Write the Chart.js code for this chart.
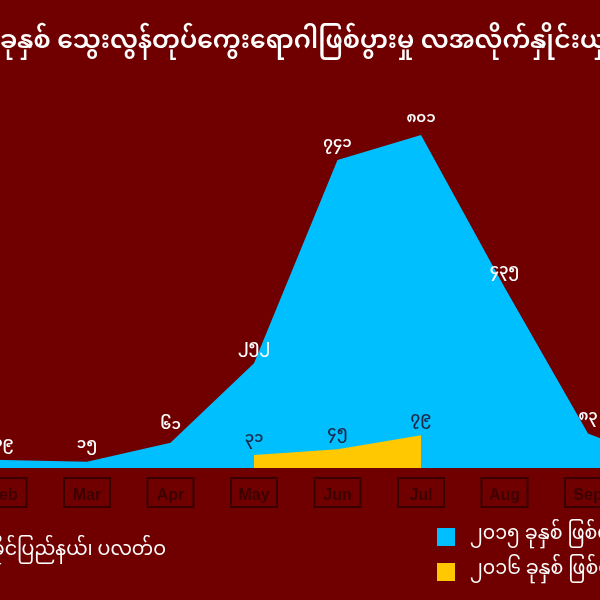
<!DOCTYPE html>
<html>
<head>
<meta charset="utf-8">
<script src="https://cdn.jsdelivr.net/npm/chart.js@4/dist/chart.umd.min.js"></script>
<style>
html,body{margin:0;padding:0;background:#700000;overflow:hidden;}
#wrap{position:relative;width:600px;height:600px;overflow:hidden;background:#700000;}
#c{position:absolute;left:-300px;top:0;}
</style>
</head>
<body>
<div id="wrap"><canvas id="c" width="1200" height="600"></canvas></div>
<script>
const months = ['Jan','Feb','Mar','Apr','May','Jun','Jul','Aug','Sep','Oct'];
const cases2015 = [24, 19, 15, 61, 252, 741, 801, 435, 83, 5];
const cases2016 = [null, null, null, null, 31, 45, 79, null, null, null];
const seriesNames = ['၂၀၁၅ ခုနှစ် ဖြစ်ပွားမှု', '၂၀၁၆ ခုနှစ် ဖြစ်ပွားမှု'];
const titlePrefix = '၂၀၁၅ နှင့် ၂၀၁၆ ';
const titleMain = 'ခုနှစ် သွေးလွန်တုပ်ကွေးရောဂါဖြစ်ပွားမှု လအလိုက်နှိုင်းယှဉ်ချက်';
const sourceText = 'ရခိုင်ပြည်နယ်၊ ပလတ်ဝ';

const OFF = 300; // canvas x = page x + OFF
const MY_FONT = '"Noto Sans Myanmar","Myanmar Text","Padauk","Noto Sans",sans-serif';
const myDigits = n => String(n).replace(/[0-9]/g, d => '၀၁၂၃၄၅၆၇၈၉'[+d]);

const deco = {
  id: 'deco',
  afterDatasetsDraw(chart) {
    const ctx = chart.ctx;
    ctx.save();
    ctx.textAlign = 'center';
    ctx.textBaseline = 'middle';
    ctx.font = '600 15px ' + MY_FONT;
    chart.data.datasets.forEach((ds, di) => {
      const meta = chart.getDatasetMeta(di);
      ds.data.forEach((v, i) => {
        if (v === null) return;
        const p = meta.data[i];
        ctx.fillStyle = di === 0 ? '#ffffff' : '#1b2a4a';
        ctx.fillText(myDigits(v), p.x, p.y - 15);
      });
    });
    ctx.restore();
  },
  afterDraw(chart) {
    const ctx = chart.ctx;
    const xs = chart.scales.x;
    ctx.save();
    // tick boxes
    ctx.strokeStyle = '#3a0000';
    ctx.lineWidth = 2;
    months.forEach((m, i) => {
      const x = xs.getPixelForTick(i);
      ctx.strokeRect(x - 23, 478, 46, 29);
    });
    // title
    ctx.fillStyle = '#ffffff';
    ctx.font = '600 25px ' + MY_FONT;
    ctx.textBaseline = 'middle';
    ctx.textAlign = 'left';
    const pw = ctx.measureText(titlePrefix).width;
    ctx.fillText(titlePrefix + titleMain, OFF + 0 - pw, 45);
    // source
    ctx.font = '19px ' + MY_FONT;
    ctx.textAlign = 'right';
    ctx.fillText(sourceText, OFF + 166, 553);
    // legend
    ctx.textAlign = 'left';
    const cols = chart.data.datasets.map(d => d.backgroundColor);
    [537, 572].forEach((y, i) => {
      ctx.fillStyle = cols[i];
      ctx.fillRect(OFF + 437, y - 9, 18, 18);
      ctx.fillStyle = '#ffffff';
      ctx.fillText(seriesNames[i], OFF + 470, y);
    });
    ctx.restore();
  }
};

new Chart(document.getElementById('c'), {
  type: 'line',
  data: {
    labels: months,
    datasets: [
      { label: seriesNames[0], data: cases2015, backgroundColor: '#00bfff', borderWidth: 0, pointRadius: 0, fill: 'origin', tension: 0, order: 1 },
      { label: seriesNames[1], data: cases2016, backgroundColor: '#ffc800', borderWidth: 0, pointRadius: 0, fill: 'origin', tension: 0, order: 0 }
    ]
  },
  options: {
    responsive: false,
    animation: false,
    devicePixelRatio: 1,
    layout: { padding: { left: 220, right: 228.5, top: 93.9, bottom: 0 } },
    plugins: { legend: { display: false }, title: { display: false }, tooltip: { enabled: false } },
    scales: {
      y: { display: false, min: 0, max: 900 },
      x: {
        offset: false,
        grid: { display: false },
        border: { display: false },
        ticks: { color: '#3c0000', font: { family: 'Liberation Sans, Arial, sans-serif', size: 16, weight: 'bold' }, padding: 10, autoSkip: false, maxRotation: 0 },
        afterFit(scale) { scale.height = 132; }
      }
    }
  },
  plugins: [deco]
});
</script>
</body>
</html>
